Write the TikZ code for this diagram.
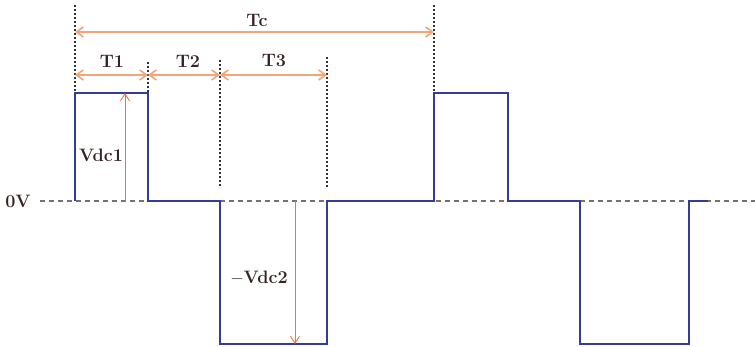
\documentclass[tikz,border=0pt]{standalone}
\usepackage{fontspec}
\usetikzlibrary{arrows.meta}

\definecolor{wavecol}{RGB}{52,60,150}
\definecolor{spancol}{RGB}{242,165,120}
\definecolor{levelcol}{RGB}{240,115,60}
\definecolor{textcol}{RGB}{55,35,35}

\tikzset{
	wave/.style={draw=wavecol, line width=2.8pt, line join=miter},
	guide/.style={draw=black!80, line width=1.2pt, dash pattern=on 2pt off 2pt},
	zeroline/.style={draw=black!55, line width=1.3pt, dash pattern=on 5pt off 4pt},
	span/.style={draw=spancol, line width=1.6pt,
		{Straight Barb[length=7pt,width=10pt]}-{Straight Barb[length=7pt,width=10pt]}},
	level/.style={draw=levelcol, line width=0.9pt, -{Straight Barb[length=7pt,width=9pt]}},
	lbl/.style={text=textcol, font=\fontsize{18}{20}\selectfont\bfseries, inner sep=1pt}
}

\begin{document}
\begin{tikzpicture}[x=1pt, y=-1pt]
	\useasboundingbox (0,0) rectangle (755,347);

	% Punkte fuer die Pfeile
	\coordinate (tc-a) at (75,32);
	\coordinate (tc-b) at (434,32);
	\coordinate (s0) at (75,75);
	\coordinate (s1) at (148,75);
	\coordinate (s2) at (220,75);
	\coordinate (s3) at (327,75);
	\coordinate (v1-a) at (125,201);
	\coordinate (v1-b) at (125,93);
	\coordinate (v2-a) at (295,201);
	\coordinate (v2-b) at (295,344);

	% Nulllinie
	\node[lbl] (zero) at (18,201) {0V};
	\draw[zeroline] (40,201) -- (755,201);

	% Hilfslinien
	\draw[guide] (75,5) -- (75,93);
	\draw[guide] (148,62) -- (148,93);
	\draw[guide] (220,60) -- (220,188);
	\draw[guide] (327,57) -- (327,188);
	\draw[guide] (434,5) -- (434,93);

	% Spannungsverlauf
	\draw[wave] (75,201) -- (75,93) -- (148,93) -- (148,201) -- (220,201)
		-- (220,344) -- (327,344) -- (327,201) -- (434,201) -- (434,93)
		-- (508,93) -- (508,201) -- (580,201) -- (580,344) -- (689,344)
		-- (689,201) -- (708,201);

	% Zeitabschnitte
	\draw[span] (tc-a) -- (tc-b);
	\draw[span] (s0) -- (s1);
	\draw[span] (s1) -- (s2);
	\draw[span] (s2) -- (s3);
	\node[lbl] (tc) at (257,20) {Tc};
	\node[lbl] (t1) at (112,61) {T1};
	\node[lbl] (t2) at (188,61) {T2};
	\node[lbl] (t3) at (274,61) {T3};

	% Amplituden
	\draw[level] (v1-a) -- (v1-b);
	\draw[level] (v2-a) -- (v2-b);
	\node[lbl] (vdc1) at (101,155) {Vdc1};
	\node[lbl] (vdc2) at (259,278) {$-$Vdc2};
\end{tikzpicture}
\end{document}
